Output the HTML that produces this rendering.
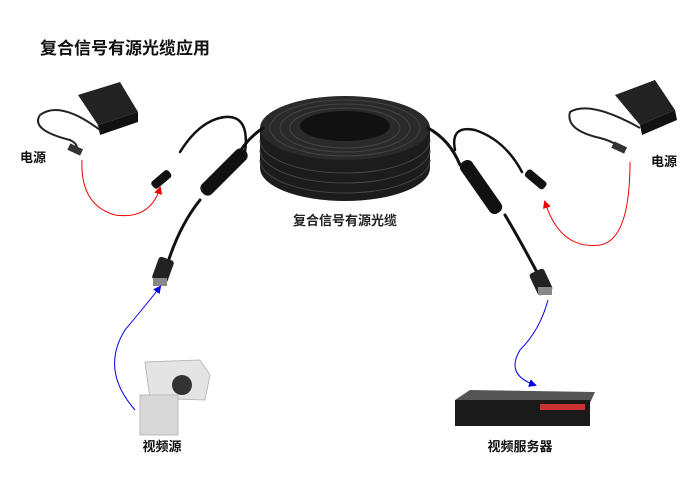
<!DOCTYPE html>
<html><head><meta charset="utf-8"><style>
body{margin:0;background:#fff;}
svg{display:block;font-family:"Liberation Sans","Noto Sans CJK SC",sans-serif;}
</style></head><body>
<svg width="700" height="495" viewBox="0 0 700 495">
<defs>
<marker id="ar" markerWidth="8" markerHeight="8" refX="6" refY="4" orient="auto"><path d="M0,0 L8,4 L0,8 z" fill="#e00"/></marker>
<marker id="ab" markerWidth="8" markerHeight="8" refX="6" refY="4" orient="auto"><path d="M0,0 L8,4 L0,8 z" fill="#00e"/></marker>
</defs>
<text x="40" y="54" font-size="17" font-weight="bold" fill="#111">复合信号有源光缆应用</text>
<!-- coil -->
<path d="M260,128 L260,168 A85,33 0 0 0 430,168 L430,128 z" fill="#1c1c1c"/>
<ellipse cx="345" cy="128" rx="85" ry="32" fill="#2a2a2a"/>
<g fill="none" stroke="#444" stroke-width="1">
<ellipse cx="345" cy="128" rx="75" ry="28"/><ellipse cx="345" cy="128" rx="65" ry="24"/><ellipse cx="345" cy="128" rx="55" ry="20"/>
<path d="M260,140 A85,33 0 0 0 430,140"/><path d="M260,150 A85,33 0 0 0 430,150"/><path d="M260,160 A85,33 0 0 0 430,160"/>
</g>
<ellipse cx="345" cy="126" rx="45" ry="15" fill="#111"/>
<!-- cables -->
<g fill="none" stroke="#111" stroke-linecap="round">
<path d="M263,128 Q245,140 235,160" stroke-width="3"/>
<path d="M200,200 Q180,225 168,262" stroke-width="3"/>
<path d="M245,152 Q250,115 225,117 Q200,120 180,152" stroke-width="2.5"/>
<path d="M428,128 Q450,140 460,165" stroke-width="3"/>
<path d="M505,215 Q520,240 540,278" stroke-width="3"/>
<path d="M455,150 Q450,125 475,130 Q505,140 522,172" stroke-width="2.5"/>
</g>
<rect x="194" y="165" width="60" height="14" rx="6" fill="#111" transform="rotate(-45 224 172)"/>
<rect x="450" y="180" width="62" height="14" rx="6" fill="#111" transform="rotate(55 481 187)"/>
<rect x="150" y="175" width="22" height="9" rx="3" fill="#111" transform="rotate(-40 161 179)"/>
<rect x="524" y="175" width="24" height="9" rx="3" fill="#111" transform="rotate(40 536 179)"/>
<rect x="155" y="258" width="16" height="24" rx="3" fill="#222" transform="rotate(20 163 270)"/>
<rect x="153" y="278" width="14" height="8" fill="#888"/>
<rect x="533" y="270" width="16" height="24" rx="3" fill="#222" transform="rotate(-25 541 282)"/>
<rect x="538" y="287" width="14" height="8" fill="#888"/>
<text x="345" y="225" font-size="13" font-weight="bold" text-anchor="middle" fill="#222">复合信号有源光缆</text>
<!-- adapters -->
<path d="M78,95 L120,82 L138,112 L98,125 z" fill="#222"/>
<path d="M98,125 L138,112 L138,122 L100,135 z" fill="#111"/>
<path d="M100,130 Q60,100 40,115 Q30,130 70,140 Q80,145 75,150" fill="none" stroke="#222" stroke-width="2"/>
<rect x="68" y="146" width="14" height="7" fill="#333" transform="rotate(25 75 150)"/>
<path d="M615,95 L655,80 L675,110 L640,125 z" fill="#222"/>
<path d="M640,125 L675,110 L677,120 L642,135 z" fill="#111"/>
<path d="M640,128 Q590,100 570,112 Q565,130 600,138 Q615,142 620,148" fill="none" stroke="#222" stroke-width="2"/>
<rect x="612" y="144" width="14" height="7" fill="#333" transform="rotate(25 619 148)"/>
<text x="20" y="162" font-size="13" font-weight="bold" fill="#111">电源</text>
<text x="651" y="166" font-size="13" font-weight="bold" fill="#111">电源</text>
<!-- arrows -->
<path d="M82,160 Q80,205 115,215 Q150,220 160,188" fill="none" stroke="#e00" stroke-width="1" marker-end="url(#ar)"/>
<path d="M630,162 Q630,240 600,245 Q560,250 545,202" fill="none" stroke="#e00" stroke-width="1" marker-end="url(#ar)"/>
<path d="M135,410 Q100,370 125,330 Q150,300 160,287" fill="none" stroke="#00e" stroke-width="1" marker-end="url(#ab)"/>
<path d="M548,300 Q540,330 520,350 Q505,375 535,385" fill="none" stroke="#00e" stroke-width="1" marker-end="url(#ab)"/>
<!-- camera -->
<path d="M145,362 L200,360 L210,375 L205,400 L150,398 z" fill="#e4e4e4" stroke="#bbb"/>
<circle cx="182" cy="385" r="10" fill="#333"/>
<rect x="140" y="395" width="38" height="40" fill="#d8d8d8" stroke="#bbb"/>
<text x="162" y="451" font-size="13" font-weight="bold" text-anchor="middle" fill="#111">视频源</text>
<!-- server -->
<path d="M455,400 L470,390 L595,392 L590,403 z" fill="#555"/>
<rect x="455" y="400" width="135" height="26" fill="#1a1a1a"/>
<rect x="540" y="404" width="45" height="6" fill="#c33"/>
<text x="520" y="451" font-size="13" font-weight="bold" text-anchor="middle" fill="#111">视频服务器</text>
</svg>
</body></html>
